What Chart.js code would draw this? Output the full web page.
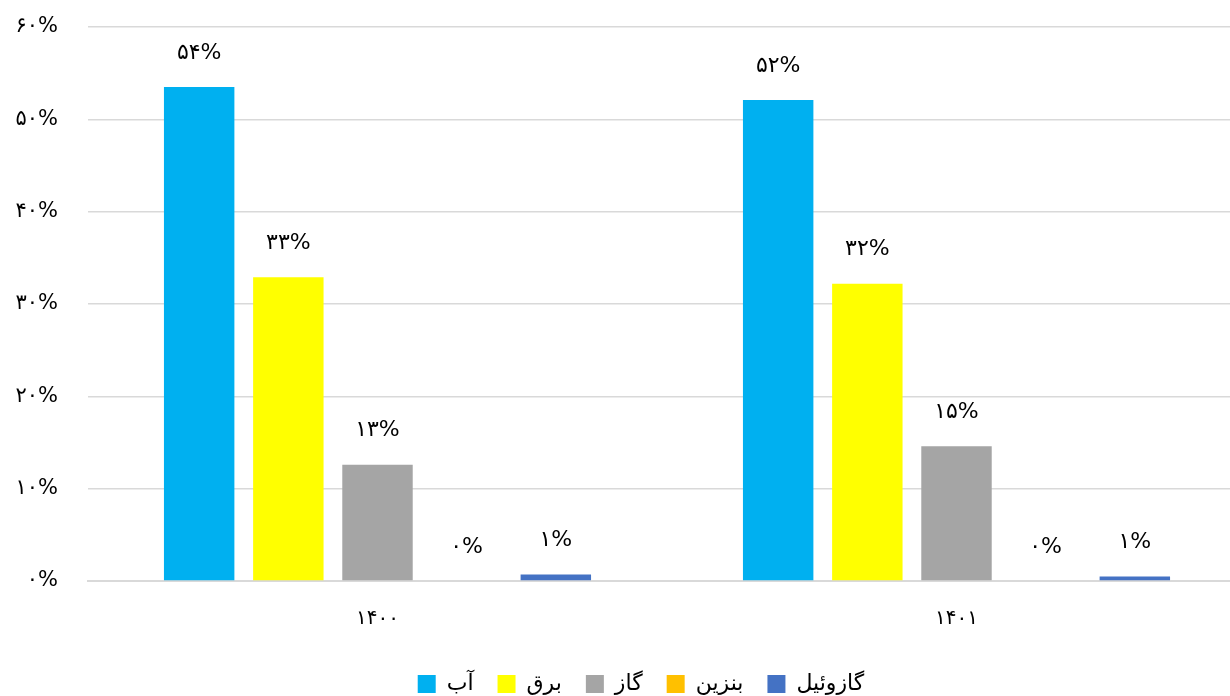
<!DOCTYPE html>
<html>
<head>
<meta charset="utf-8">
<script src="https://cdn.jsdelivr.net/npm/chart.js@4/dist/chart.umd.min.js"></script>
<style>
  body { margin: 0; background: #fff; }
  #wrap { width: 1230px; height: 696px; overflow: hidden; position: relative; }
</style>
</head>
<body>
<div id="wrap"><canvas id="c" width="1246" height="696"></canvas></div>
<script>
// years on the x axis
const categories = ['۱۴۰۰', '۱۴۰۱'];
const seriesNames = ['آب', 'برق', 'گاز', 'بنزین', 'گازوئیل'];
const seriesColors = ['#00B0F0', '#FFFF00', '#A5A5A5', '#FFC000', '#4472C4'];
// share of each carrier, percent
const water = [53.5, 52.1];
const power = [32.9, 32.2];
const gas = [12.6, 14.6];
const petrol = [0, 0];
const diesel = [0.7, 0.5];
const yTicks = [0, 10, 20, 30, 40, 50, 60];

const values = [water, power, gas, petrol, diesel];
const FONT = '"DejaVu Sans", sans-serif';

function fa(n) {
  return String(n).replace(/[0-9]/g, d => '۰۱۲۳۴۵۶۷۸۹'[d]);
}

const barLabels = {
  id: 'barLabels',
  afterDatasetsDraw(chart) {
    const ctx = chart.ctx;
    ctx.save();
    ctx.font = '22px ' + FONT;
    ctx.fillStyle = '#000';
    ctx.textAlign = 'center';
    ctx.textBaseline = 'middle';
    chart.data.datasets.forEach((ds, i) => {
      chart.getDatasetMeta(i).data.forEach((bar, j) => {
        ctx.fillText(fa(Math.round(ds.data[j])) + '%', bar.x, bar.y - 34);
      });
    });
    ctx.restore();
  }
};

// legend sits a bit right of the canvas centre in the original
const legendNudge = {
  id: 'legendNudge',
  afterLayout(chart) {
    const lg = chart.legend;
    lg.left += 18; lg.right += 18;
    lg.top -= 8; lg.bottom -= 8;
  }
};

new Chart(document.getElementById('c'), {
  type: 'bar',
  data: {
    labels: categories,
    datasets: seriesNames.map((name, i) => ({
      label: name,
      data: values[i],
      backgroundColor: seriesColors[i],
      borderWidth: 0,
      categoryPercentage: 0.77,
      barPercentage: 0.79,
    }))
  },
  options: {
    responsive: false,
    animation: false,
    layout: { padding: { left: 0, right: 0, top: 27, bottom: -17 } },
    plugins: {
      legend: {
        position: 'bottom',
        labels: {
          font: { family: FONT, size: 22 },
          color: '#000',
          boxWidth: 18,
          boxHeight: 18,
          padding: 24,
        }
      },
      tooltip: { enabled: false }
    },
    scales: {
      y: {
        min: 0, max: 60,
        afterBuildTicks: (s) => { s.ticks = yTicks.map(v => ({ value: v })); },
        afterFit: (s) => { s.width = 88; s.paddingTop = 0; },
        grid: { color: '#D9D9D9', lineWidth: 1.5, drawTicks: false },
        border: { display: false },
        ticks: {
          padding: 30,
          color: '#000',
          font: { family: FONT, size: 21 },
          callback: v => fa(v) + '%'
        }
      },
      x: {
        grid: { display: false, drawTicks: false },
        border: { display: true, color: '#D9D9D9', width: 2 },
        ticks: {
          padding: 26,
          color: '#000',
          font: { family: FONT, size: 20 }
        }
      }
    }
  },
  plugins: [barLabels, legendNudge]
});
</script>
</body>
</html>
